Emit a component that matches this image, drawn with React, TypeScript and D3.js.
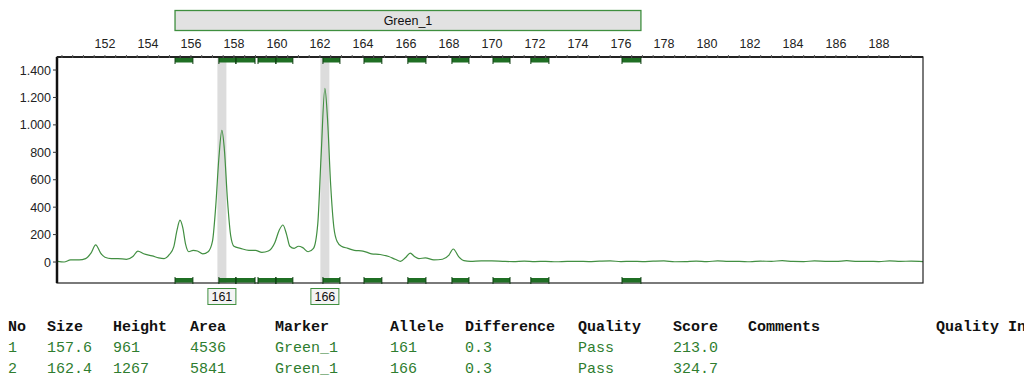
import { useEffect, useRef } from "react";
import * as d3 from "d3";

// trace (size in bp, height in RFU)
const traceSize = [
  149.8, 150.1, 150.4, 150.8, 151.1, 151.35, 151.57, 151.8, 152.0, 152.3, 152.6, 153.0, 153.3, 153.53,
  153.8, 154.2, 154.5, 154.75, 155.0, 155.2, 155.35, 155.49, 155.62, 155.75, 155.9, 156.1, 156.3,
  156.55, 156.8, 157.0, 157.15, 157.3, 157.44, 157.55, 157.7, 157.85, 158.0, 158.3, 158.7, 159.0,
  159.3, 159.6, 159.9, 160.1, 160.28, 160.45, 160.6, 160.8, 161.0, 161.2, 161.45, 161.7, 161.9,
  162.05, 162.23, 162.35, 162.5, 162.65, 162.8, 163.0, 163.3, 163.6, 164.0, 164.4, 164.8, 165.2,
  165.5, 165.75, 166.0, 166.2, 166.4, 166.6, 166.9, 167.3, 167.7, 168.0, 168.2, 168.45, 168.7,
  169.0, 169.5, 170.0, 170.5, 171.0, 171.5, 172.0, 172.5, 173.0, 173.5, 174.0, 174.5, 175.0,
  175.5, 176.0, 176.5, 177.0, 177.5, 178.0, 178.5, 179.0, 179.5, 180.0, 180.5, 181.0, 181.5,
  182.0, 182.5, 183.0, 183.5, 184.0, 184.5, 185.0, 185.5, 186.0, 186.5, 187.0, 187.5, 188.0,
  188.5, 189.0, 189.5, 190.05,
];
const traceValue = [
  5, 0, 15, 15, 25, 65, 125, 65, 35, 25, 25, 20, 40, 80,
  60, 45, 30, 25, 55, 110, 230, 305, 250, 130, 75, 85, 80,
  60, 75, 150, 400, 760, 961, 830, 450, 190, 115, 100, 85, 85,
  70, 80, 140, 230, 270, 200, 115, 100, 115, 105, 75, 100, 280,
  760, 1267, 1050, 560, 250, 150, 115, 100, 85, 80, 60, 55, 40,
  20, 5, 35, 65, 40, 25, 30, 15, 20, 50, 95, 40, 10,
  5, 8, 8, 5, 3, 6, 3, 5, 2, 5, 5, 3, 6,
  8, 3, 5, 3, 6, 8, 2, 3, 6, 3, 8, 5, 5,
  2, 6, 5, 10, 4, 3, 8, 5, 4, 10, 4, 5, 3,
  8, 5, 6, 3,
];

// allele bins [start, end]
const binStart = [155.26, 157.3, 158.09, 159.12, 159.95, 162.14, 164.05, 166.09, 168.14, 170.05, 171.81, 176.05];
const binEnd = [156.09, 158.09, 158.98, 159.95, 160.74, 162.93, 164.88, 166.93, 168.93, 170.84, 172.65, 176.93];

// called peaks
const peakSize = [157.44, 162.23];
const peakAllele = ["161", "166"];

const xTicks = [152, 154, 156, 158, 160, 162, 164, 166, 168, 170, 172, 174, 176, 178, 180, 182, 184, 186, 188];
const yTicks = [0, 200, 400, 600, 800, 1000, 1200, 1400];

const markerName = "Green_1";
const markerRange = [155.26, 176.93];

const tableHeaders = ["No", "Size", "Height", "Area", "Marker", "Allele", "Difference", "Quality", "Score", "Comments", "Quality Index"];
const tableRows = [
  ["1", "157.6", "961", "4536", "Green_1", "161", "0.3", "Pass", "213.0"],
  ["2", "162.4", "1267", "5841", "Green_1", "166", "0.3", "Pass", "324.7"],
];

const App = () => {
  const svgRef = useRef<SVGSVGElement>(null);

  useEffect(() => {
    const svg = d3.select(svgRef.current);
    svg.selectAll("*").remove();

    const left = 57, right = 923, top = 57, bottom = 283;
    const x = d3.scaleLinear().domain([149.77, 190.05]).range([left, right]);
    const y = d3.scaleLinear().domain([-153, 1495]).range([bottom, top]);
    const fmt = d3.formatLocale({ decimal: ",", thousands: ".", grouping: [3], currency: ["", ""] }).format(",");

    const sans = "'Liberation Sans', Arial, sans-serif";
    const mono = "'Liberation Mono', 'Courier New', monospace";

    // marker box
    svg.append("rect")
      .attr("x", x(markerRange[0])).attr("y", 10.5)
      .attr("width", x(markerRange[1]) - x(markerRange[0])).attr("height", 20)
      .attr("fill", "#e2e2e2").attr("stroke", "#3f8f3f").attr("stroke-width", 1.3);
    svg.append("text")
      .attr("x", (x(markerRange[0]) + x(markerRange[1])) / 2).attr("y", 25)
      .attr("text-anchor", "middle").attr("font-family", sans).attr("font-size", 12.5)
      .attr("fill", "#111").text(markerName);

    // top size labels
    svg.selectAll(".xlab").data(xTicks).enter().append("text")
      .attr("x", (d) => x(d)).attr("y", 48)
      .attr("text-anchor", "middle").attr("font-family", sans).attr("font-size", 12.5)
      .attr("fill", "#222").text((d) => d);

    // plot background
    svg.append("rect").attr("x", left).attr("y", top).attr("width", right - left).attr("height", bottom - top).attr("fill", "#fff");

    // gray bands at called peaks
    svg.selectAll(".band").data(peakSize).enter().append("rect")
      .attr("x", (d) => x(d) - 4.5).attr("y", top).attr("width", 9).attr("height", bottom - top)
      .attr("fill", "#dcdcdc");

    // trace
    const pts = traceSize.map((s, i) => [x(s), y(traceValue[i])] as [number, number]);
    svg.append("path")
      .attr("d", d3.line().curve(d3.curveMonotoneX)(pts))
      .attr("fill", "none").attr("stroke", "#428f42").attr("stroke-width", 1.2);

    // frame
    svg.append("rect").attr("x", left).attr("y", top).attr("width", right - left).attr("height", bottom - top)
      .attr("fill", "none").attr("stroke", "#222").attr("stroke-width", 1.2);
    svg.append("line").attr("x1", left).attr("x2", left).attr("y1", top).attr("y2", bottom)
      .attr("stroke", "#111").attr("stroke-width", 2.5);
    svg.append("line").attr("x1", left).attr("x2", right).attr("y1", top).attr("y2", top)
      .attr("stroke", "#222").attr("stroke-width", 2);

    // minor ticks along top
    svg.selectAll(".mt").data(d3.range(150, 190, 0.5)).enter().append("line")
      .attr("x1", (d) => x(d)).attr("x2", (d) => x(d)).attr("y1", top - 2).attr("y2", top + 1)
      .attr("stroke", "#555").attr("stroke-width", 1);

    // bins top and bottom
    const bins = binStart.map((s, i) => ({ s, e: binEnd[i] }));
    [top + 1, bottom - 5].forEach((by) => {
      const g = svg.append("g");
      g.selectAll("rect").data(bins).enter().append("rect")
        .attr("x", (d) => x(d.s)).attr("y", by).attr("width", (d) => x(d.e) - x(d.s)).attr("height", 4.5)
        .attr("fill", "#1f6f24");
      g.selectAll(".be").data(bins.flatMap((d) => [d.s, d.e])).enter().append("line")
        .attr("x1", (d) => x(d)).attr("x2", (d) => x(d)).attr("y1", by - 1).attr("y2", by + 6)
        .attr("stroke", "#0d3d10").attr("stroke-width", 1);
    });

    // y axis
    svg.selectAll(".yt").data(yTicks).enter().append("line")
      .attr("x1", left - 4).attr("x2", left).attr("y1", (d) => y(d)).attr("y2", (d) => y(d))
      .attr("stroke", "#333");
    svg.selectAll(".yl").data(yTicks).enter().append("text")
      .attr("x", left - 6).attr("y", (d) => y(d) + 4.5)
      .attr("text-anchor", "end").attr("font-family", sans).attr("font-size", 12.5)
      .attr("fill", "#222").text((d) => fmt(d));

    // allele labels
    const lab = svg.selectAll(".al").data(peakSize).enter().append("g");
    lab.append("rect")
      .attr("x", (d) => x(d) - 14).attr("y", 288.5).attr("width", 28).attr("height", 16)
      .attr("fill", "#f4f4f4").attr("stroke", "#3f8f3f").attr("stroke-width", 1);
    lab.append("text")
      .attr("x", (d) => x(d)).attr("y", 301)
      .attr("text-anchor", "middle").attr("font-family", sans).attr("font-size", 12.5)
      .attr("fill", "#111").text((_, i) => peakAllele[i]);

    // results table
    const colX = [8, 47, 113, 190, 275, 390, 465, 578, 673, 748, 936];
    svg.selectAll(".th").data(tableHeaders).enter().append("text")
      .attr("x", (_, i) => colX[i]).attr("y", 331)
      .attr("font-family", mono).attr("font-size", 15).attr("font-weight", "bold")
      .attr("fill", "#111").text((d) => d);
    tableRows.forEach((row, r) => {
      svg.selectAll(".tr" + r).data(row).enter().append("text")
        .attr("x", (_, i) => colX[i]).attr("y", 352 + r * 21)
        .attr("font-family", mono).attr("font-size", 15)
        .attr("fill", "#2f7d2f").text((d) => d);
    });
  }, []);

  return (
    <div style={{ position: "absolute", left: 0, top: 0 }}>
      <svg ref={svgRef} width={1024} height={379} style={{ display: "block", background: "#fff" }}></svg>
    </div>
  );
};

export default App;
